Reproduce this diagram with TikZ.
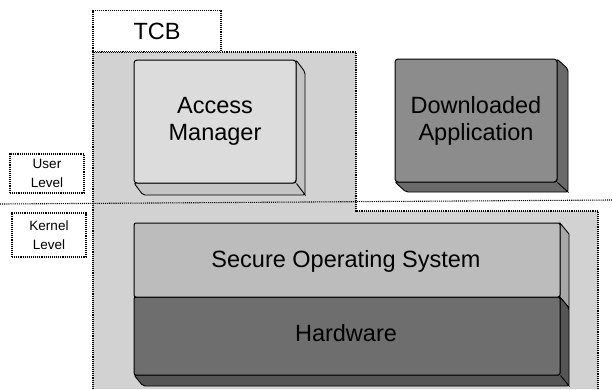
\documentclass[tikz,border=0pt]{standalone}
\usepackage{fontspec}
\setmainfont{Liberation Sans}
\usetikzlibrary{calc}
\definecolor{tcbgray}{HTML}{D2D2D2}
\definecolor{amface}{HTML}{DCDCDC}
\definecolor{amside}{HTML}{C4C4C4}
\definecolor{dlface}{HTML}{8C8C8C}
\definecolor{dlside}{HTML}{6A6A6A}
\definecolor{osface}{HTML}{BCBCBC}
\definecolor{osside}{HTML}{A8A8A8}
\definecolor{hwface}{HTML}{6E6E6E}
\definecolor{hwside}{HTML}{555555}
\tikzset{
  dotline/.style={draw=black, densely dotted, line width=1.1pt},
  levelbox/.style={dotline, fill=white, align=center, inner sep=0pt,
    minimum width=74pt, font=\fontsize{13.5}{19}\selectfont},
  front/.style={draw=black, line width=1pt, rounded corners=3pt, inner sep=0pt,
    align=center, font=\fontsize{23.5}{27}\selectfont},
  sideline/.style={draw=black, line width=0.9pt},
}
\begin{document}
\begin{tikzpicture}[x=1pt, y=-1pt]
\useasboundingbox (0,0) rectangle (612,389);
% TCB region
\fill[tcbgray] (93,52) -- (356,52) -- (356,211) -- (598,211) -- (598,389) -- (93,389) -- cycle;
\draw[dotline] (93,389) -- (93,52) -- (356,52) -- (356,211) -- (598,211) -- (598,389);
% TCB tab
\node[dotline, fill=white, minimum width=128pt, minimum height=41pt, inner sep=0pt,
  font=\fontsize{23.5}{27}\selectfont] (tcb) at (157,31) {TCB};
% divider between user and kernel level
\coordinate (divL) at (0,204);
\coordinate (divR) at (612,200);
\draw[dotline] (divL) -- (divR);
% level boxes
\node[levelbox, minimum height=39pt] (user) at (47,173.5) {User\\Level};
\node[levelbox, minimum height=44pt] (kernel) at (49,235) {Kernel\\Level};
% Access Manager box
\filldraw[fill=amside, sideline, rounded corners=2pt] (296,60) -- (305,72) -- (305,195) -- (143,195) -- (134,183) -- (296,183) -- cycle;
\node[front, fill=amface, minimum width=162pt, minimum height=123pt] (am) at (215,121.5) {Access\\Manager};
\draw[sideline] (am.south east) -- ++(9,12);
% Downloaded Application box
\filldraw[fill=dlside, sideline, rounded corners=2pt] (557,59) -- (568,69) -- (568,192) -- (406,192) -- (395,182) -- (557,182) -- cycle;
\node[front, fill=dlface, minimum width=162pt, minimum height=123pt] (dl) at (476,120.5) {Downloaded\\Application};
\draw[sideline] (dl.south east) -- ++(11,10);
% Secure OS / Hardware block
\filldraw[fill=osside, sideline] (560,223) -- (569,234) -- (569,308) -- (560,297) -- cycle;
\filldraw[fill=hwside, sideline, rounded corners=2pt] (560,297) -- (569,308) -- (569,386) -- (143,386) -- (134,375) -- (560,375) -- cycle;
\node[front, fill=hwface, minimum width=426pt, minimum height=78pt, rounded corners=2pt] (hw) at (347,336) {};
\node[front, fill=osface, minimum width=426pt, minimum height=74pt, rounded corners=2pt] (os) at (347,260) {};
\node[font=\fontsize{23.5}{27}\selectfont] (ostext) at (346,261) {Secure Operating System};
\node[font=\fontsize{23.5}{27}\selectfont] (hwtext) at (346,333) {Hardware};
\draw[sideline] (hw.south east) -- ++(9,11);
\end{tikzpicture}
\end{document}
